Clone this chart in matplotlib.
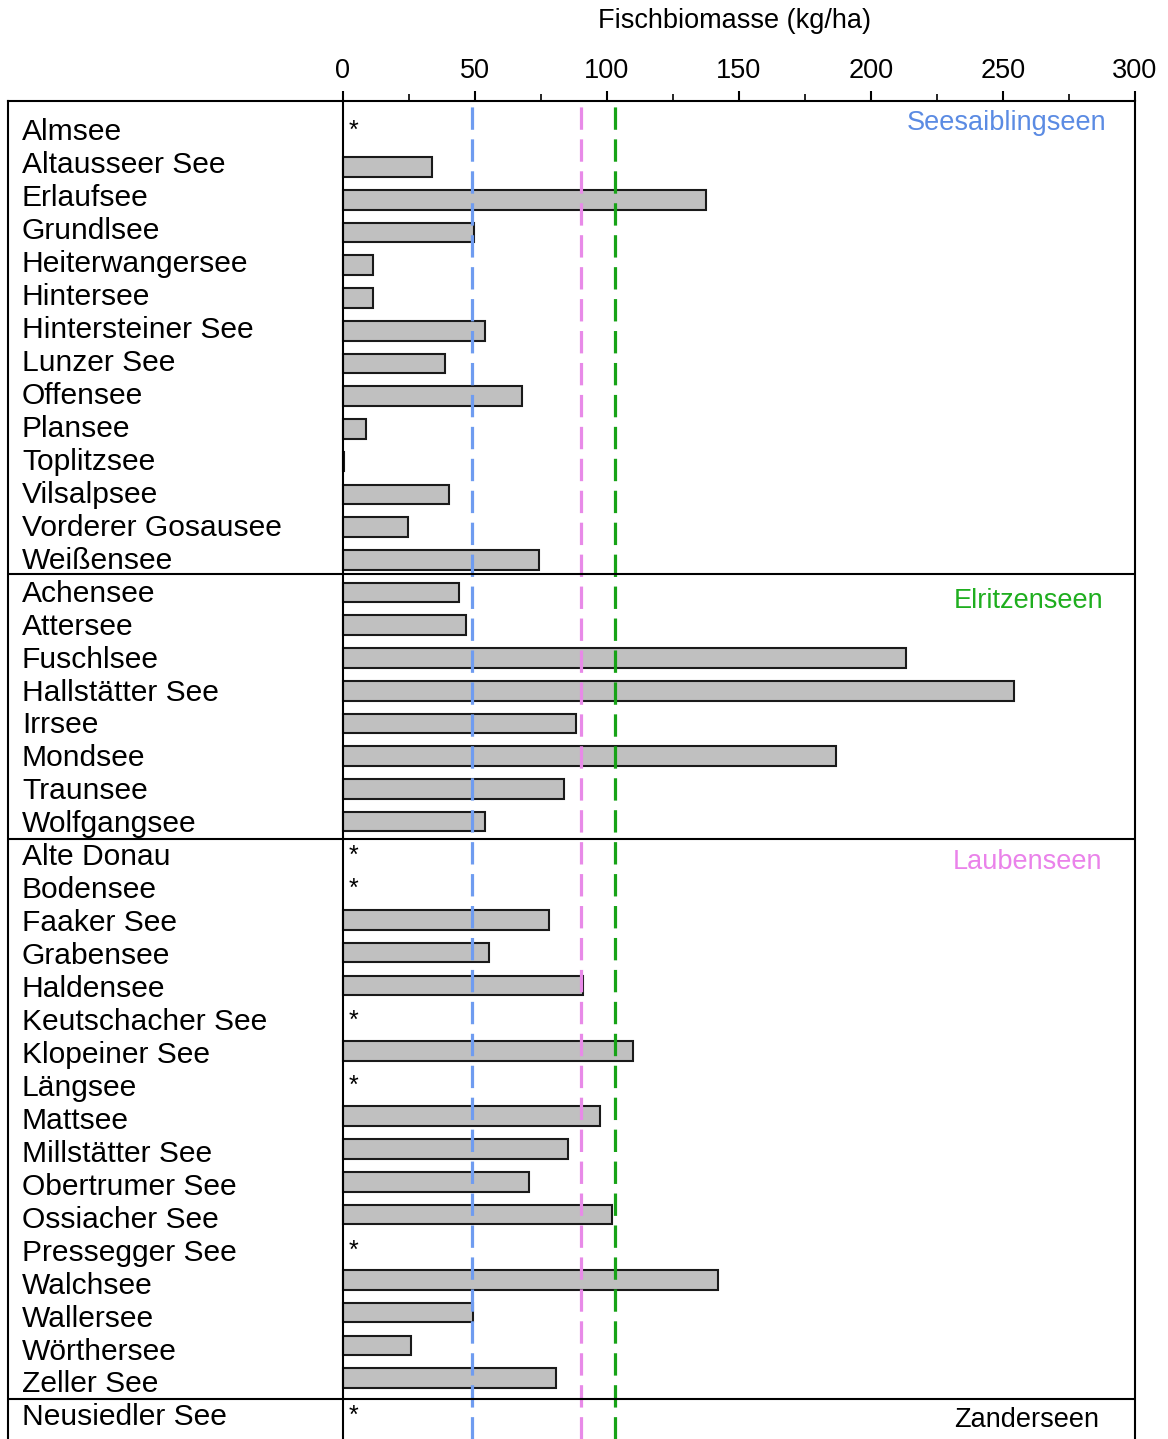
import numpy as np
import matplotlib
matplotlib.use('Agg')
import matplotlib.pyplot as plt

plt.rcParams['font.family'] = ['Liberation Sans', 'DejaVu Sans']

# lakes, top to bottom (nan -> no data, shown as *)
seesaibling = ['Almsee', 'Altausseer See', 'Erlaufsee', 'Grundlsee', 'Heiterwangersee',
               'Hintersee', 'Hintersteiner See', 'Lunzer See', 'Offensee', 'Plansee',
               'Toplitzsee', 'Vilsalpsee', 'Vorderer Gosausee', 'Weißensee']
seesaibling_val = [np.nan, 33.7, 137.4, 49.7, 11.5, 11.5, 53.7, 38.8, 67.9, 8.7,
                   0.5, 40.3, 24.5, 74.2]

elritzen = ['Achensee', 'Attersee', 'Fuschlsee', 'Hallstätter See', 'Irrsee',
            'Mondsee', 'Traunsee', 'Wolfgangsee']
elritzen_val = [44.1, 46.7, 213.3, 254.0, 88.1, 186.7, 83.6, 53.9]

lauben = ['Alte Donau', 'Bodensee', 'Faaker See', 'Grabensee', 'Haldensee',
          'Keutschacher See', 'Klopeiner See', 'Längsee', 'Mattsee', 'Millstätter See',
          'Obertrumer See', 'Ossiacher See', 'Pressegger See', 'Walchsee', 'Wallersee',
          'Wörthersee', 'Zeller See']
lauben_val = [np.nan, np.nan, 78.2, 55.4, 91.0, np.nan, 109.7, np.nan, 97.2, 85.2,
              70.3, 102.0, np.nan, 142.2, 49.1, 25.6, 80.8]

zander = ['Neusiedler See']
zander_val = [np.nan]

group_names = ['Seesaiblingseen', 'Elritzenseen', 'Laubenseen', 'Zanderseen']
group_colors = ['#5b8be3', '#1fae1f', '#ea82ea', 'black']

# reference lines (kg/ha)
ref_vals = [49, 90, 103]
ref_colors = ['#6f9cf0', '#e88ae8', '#17a317']

xticks = [0, 50, 100, 150, 200, 250, 300]

names = seesaibling + elritzen + lauben + zander
vals = np.array(seesaibling_val + elritzen_val + lauben_val + zander_val)
sizes = [len(seesaibling), len(elritzen), len(lauben), len(zander)]
starts = np.cumsum([0] + sizes[:-1])
y = np.arange(len(names))
# text rows are spaced a touch wider than the bars
ylab = y * 1.0067 - 0.13

fig = plt.figure(figsize=(11.68, 14.39), dpi=100)
ax = fig.add_axes([8/1168, 0.0, (1135-8)/1168, 1-101/1439])

xmin = (8-343)/2.64
ax.set_xlim(xmin, 300)
ax.set_ylim(39.86, -1.017)

ok = ~np.isnan(vals)
ax.barh(y[ok], vals[ok], height=0.6, color='#c0c0c0', edgecolor='#1a1a1a', linewidth=1.5, zorder=2)
for yi in ylab[~ok]:
    ax.text(2.0, yi + 0.02, '*', fontsize=18, ha='left', va='center', zorder=4)

for xv, c in zip(ref_vals, ref_colors):
    ax.axvline(xv, color=c, lw=2.3, dashes=(7, 3), zorder=3)

# lake names in left panel
for yi, n in zip(ylab, names):
    ax.text(-121.6, yi + 0.07, n, fontsize=21.6, ha='left', va='center')

# group separators and names
seps = [13.43, 21.53, 38.64]
for s in seps:
    ax.axhline(s, color='black', lw=1.5, zorder=5)
gy = [-0.34, 14.26, 22.24, 39.28]
gx = [289, 288, 287.5, 286.5]
for k in range(4):
    ax.text(gx[k], gy[k], group_names[k], color=group_colors[k], fontsize=19.5,
            ha='right', va='center')

ax.axvline(0, color='black', lw=1.5, zorder=5)

ax.xaxis.tick_top()
ax.set_xticks(xticks)
ax.set_xticks(np.arange(25, 300, 50), minor=True)
ax.tick_params(axis='x', which='major', length=7, width=1.5, labelsize=19.5, pad=5)
ax.tick_params(axis='x', which='minor', length=5, width=1.2)
ax.set_yticks([])
for sp in ['top', 'left', 'right']:
    ax.spines[sp].set_linewidth(1.5)
ax.spines['bottom'].set_visible(False)

fig.text(734/1168, 1-21/1439, 'Fischbiomasse (kg/ha)', fontsize=19.5, ha='center', va='center')

plt.savefig('out.png', dpi=100)
